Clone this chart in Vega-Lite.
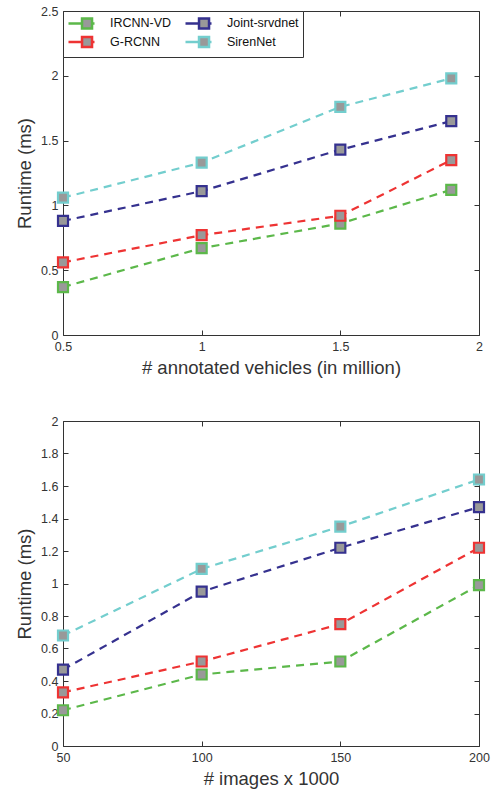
{
  "$schema": "https://vega.github.io/schema/vega-lite/v6.json",
  "padding": {"left": 15, "top": 4, "right": 12, "bottom": 5},
  "spacing": 36,
  "config": {
    "font": "Liberation Sans",
    "view": {"stroke": "#333", "strokeWidth": 1},
    "axis": {
      "labelFont": "Liberation Sans", "labelFontSize": 12.5, "labelColor": "#333",
      "titleFont": "Liberation Sans", "titleFontSize": 18.5, "titleFontWeight": "normal", "titleColor": "#333",
      "domain": false, "tickColor": "#333", "ticks": true, "tickSize": 5, "tickWidth": 1, "offset": -5, "grid": false,
      "labelPadding": 5, "labelFlush": false, "labelOverlap": false, "format": "~f"
    },
    "legend": {
      "labelFont": "Liberation Sans", "labelFontSize": 12.5, "labelColor": "#111"
    }
  },
  "datasets": {
    "top": [
      {"x": 0.5, "y": 0.37, "method": "IRCNN-VD"},
      {"x": 1.0, "y": 0.67, "method": "IRCNN-VD"},
      {"x": 1.5, "y": 0.86, "method": "IRCNN-VD"},
      {"x": 1.9, "y": 1.12, "method": "IRCNN-VD"},
      {"x": 0.5, "y": 0.56, "method": "G-RCNN"},
      {"x": 1.0, "y": 0.77, "method": "G-RCNN"},
      {"x": 1.5, "y": 0.92, "method": "G-RCNN"},
      {"x": 1.9, "y": 1.35, "method": "G-RCNN"},
      {"x": 0.5, "y": 0.88, "method": "Joint-srvdnet"},
      {"x": 1.0, "y": 1.11, "method": "Joint-srvdnet"},
      {"x": 1.5, "y": 1.43, "method": "Joint-srvdnet"},
      {"x": 1.9, "y": 1.65, "method": "Joint-srvdnet"},
      {"x": 0.5, "y": 1.06, "method": "SirenNet"},
      {"x": 1.0, "y": 1.33, "method": "SirenNet"},
      {"x": 1.5, "y": 1.76, "method": "SirenNet"},
      {"x": 1.9, "y": 1.98, "method": "SirenNet"}
    ],
    "bottom": [
      {"x": 50, "y": 0.22, "method": "IRCNN-VD"},
      {"x": 100, "y": 0.44, "method": "IRCNN-VD"},
      {"x": 150, "y": 0.52, "method": "IRCNN-VD"},
      {"x": 200, "y": 0.99, "method": "IRCNN-VD"},
      {"x": 50, "y": 0.33, "method": "G-RCNN"},
      {"x": 100, "y": 0.52, "method": "G-RCNN"},
      {"x": 150, "y": 0.75, "method": "G-RCNN"},
      {"x": 200, "y": 1.22, "method": "G-RCNN"},
      {"x": 50, "y": 0.47, "method": "Joint-srvdnet"},
      {"x": 100, "y": 0.95, "method": "Joint-srvdnet"},
      {"x": 150, "y": 1.22, "method": "Joint-srvdnet"},
      {"x": 200, "y": 1.47, "method": "Joint-srvdnet"},
      {"x": 50, "y": 0.68, "method": "SirenNet"},
      {"x": 100, "y": 1.09, "method": "SirenNet"},
      {"x": 150, "y": 1.35, "method": "SirenNet"},
      {"x": 200, "y": 1.64, "method": "SirenNet"}
    ]
  },
  "vconcat": [
    {
      "width": 416, "height": 324,
      "data": {"name": "top"},
      "resolve": {"axis": {"x": "independent", "y": "independent"}},
      "layer": [
        {
          "mark": {"type": "line", "strokeDash": [8, 6], "strokeWidth": 2.2},
          "encoding": {
            "x": {"field": "x", "type": "quantitative", "scale": {"domain": [0.5, 2], "nice": false},
                  "axis": {"orient": "bottom", "values": [0.5, 1, 1.5, 2], "title": "# annotated vehicles (in million)", "titlePadding": 6}},
            "y": {"field": "y", "type": "quantitative", "scale": {"domain": [0, 2.5], "nice": false},
                  "axis": {"orient": "left", "values": [0, 0.5, 1, 1.5, 2, 2.5], "title": "Runtime (ms)", "titlePadding": 6}},
            "color": {"field": "method", "type": "nominal",
                      "scale": {"domain": ["IRCNN-VD", "G-RCNN", "Joint-srvdnet", "SirenNet"], "range": ["#5cb84a", "#ee3333", "#35318f", "#73cece"]},
                      "legend": {"orient": "top-left", "columns": 2, "title": null, "offset": 0, "padding": 4,
                                 "strokeColor": "#333", "fillColor": "white", "columnPadding": 8, "rowPadding": -6, "labelOffset": 27,
                                 "symbolType": "M-1,0H1.08M2.62,0H3M1.08,-0.77H2.62V0.77H1.08Z", "symbolSize": 169, "symbolFillColor": "#999", "symbolStrokeWidth": 2.5, "symbolOpacity": 1}}
          }
        },
        {
          "mark": {"type": "point", "shape": "square", "size": 100, "filled": false, "fill": "#999", "strokeWidth": 2.2, "opacity": 1, "fillOpacity": 1},
          "encoding": {
            "x": {"field": "x", "type": "quantitative", "axis": null},
            "y": {"field": "y", "type": "quantitative", "axis": null},
            "stroke": {"field": "method", "type": "nominal", "scale": {"domain": ["IRCNN-VD", "G-RCNN", "Joint-srvdnet", "SirenNet"], "range": ["#5cb84a", "#ee3333", "#35318f", "#73cece"]}, "legend": null}
          }
        },
        {
          "mark": {"type": "point", "opacity": 0},
          "encoding": {
            "x": {"field": "x", "type": "quantitative", "axis": {"orient": "top", "values": [0.5, 1, 1.5, 2], "labels": false, "title": null}},
            "y": {"field": "y", "type": "quantitative", "axis": {"orient": "right", "values": [0, 0.5, 1, 1.5, 2, 2.5], "labels": false, "title": null}}
          }
        }
      ]
    },
    {
      "width": 416, "height": 325,
      "data": {"name": "bottom"},
      "resolve": {"axis": {"x": "independent", "y": "independent"}},
      "layer": [
        {
          "mark": {"type": "line", "strokeDash": [8, 6], "strokeWidth": 2.2},
          "encoding": {
            "x": {"field": "x", "type": "quantitative", "scale": {"domain": [50, 200], "nice": false},
                  "axis": {"orient": "bottom", "values": [50, 100, 150, 200], "title": "# images x 1000", "titlePadding": 6}},
            "y": {"field": "y", "type": "quantitative", "scale": {"domain": [0, 2], "nice": false},
                  "axis": {"orient": "left", "values": [0, 0.2, 0.4, 0.6, 0.8, 1, 1.2, 1.4, 1.6, 1.8, 2], "title": "Runtime (ms)", "titlePadding": 6}},
            "color": {"field": "method", "type": "nominal",
                      "scale": {"domain": ["IRCNN-VD", "G-RCNN", "Joint-srvdnet", "SirenNet"], "range": ["#5cb84a", "#ee3333", "#35318f", "#73cece"]},
                      "legend": {"orient": "top-left", "columns": 2, "title": null, "offset": 0, "padding": 4,
                                 "strokeColor": "#333", "fillColor": "white", "columnPadding": 8, "rowPadding": -6, "labelOffset": 27,
                                 "symbolType": "M-1,0H1.08M2.62,0H3M1.08,-0.77H2.62V0.77H1.08Z", "symbolSize": 169, "symbolFillColor": "#999", "symbolStrokeWidth": 2.5, "symbolOpacity": 1}}
          }
        },
        {
          "mark": {"type": "point", "shape": "square", "size": 100, "filled": false, "fill": "#999", "strokeWidth": 2.2, "opacity": 1, "fillOpacity": 1},
          "encoding": {
            "x": {"field": "x", "type": "quantitative", "axis": null},
            "y": {"field": "y", "type": "quantitative", "axis": null},
            "stroke": {"field": "method", "type": "nominal", "scale": {"domain": ["IRCNN-VD", "G-RCNN", "Joint-srvdnet", "SirenNet"], "range": ["#5cb84a", "#ee3333", "#35318f", "#73cece"]}, "legend": null}
          }
        },
        {
          "mark": {"type": "point", "opacity": 0},
          "encoding": {
            "x": {"field": "x", "type": "quantitative", "axis": {"orient": "top", "values": [50, 100, 150, 200], "labels": false, "title": null}},
            "y": {"field": "y", "type": "quantitative", "axis": {"orient": "right", "values": [0, 0.2, 0.4, 0.6, 0.8, 1, 1.2, 1.4, 1.6, 1.8, 2], "labels": false, "title": null}}
          }
        }
      ]
    }
  ]
}
